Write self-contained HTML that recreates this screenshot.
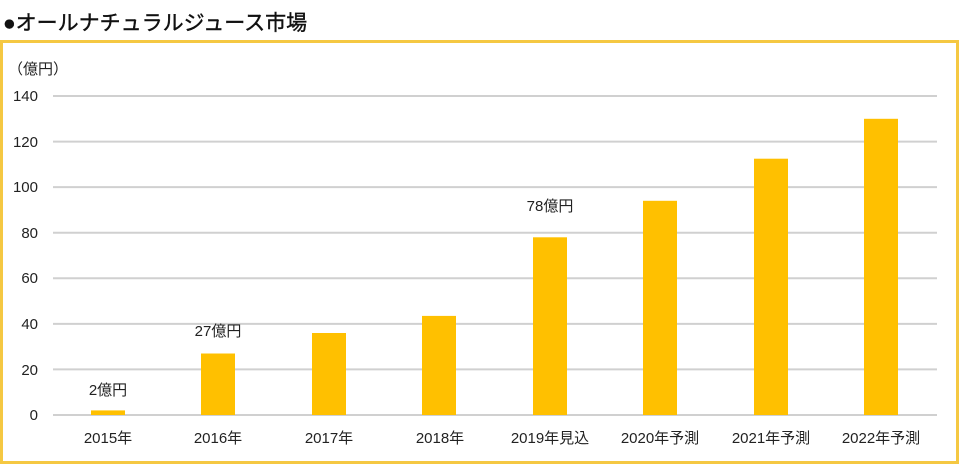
<!DOCTYPE html><html><head><meta charset="utf-8"><style>
body{margin:0;width:960px;height:465px;background:#fff;overflow:hidden;font-family:"Liberation Sans","Noto Sans CJK JP",sans-serif;}
</style></head><body>
<svg width="960" height="465" xmlns="http://www.w3.org/2000/svg" font-family="Liberation Sans, Noto Sans CJK JP, sans-serif">
<text x="3" y="30" font-size="21" fill="#111" stroke="#111" stroke-width="0.4">●オールナチュラルジュース市場</text>
<rect x="1.5" y="41.5" width="956" height="421" fill="#fff" stroke="#f5c842" stroke-width="3"/>
<text x="8" y="74" font-size="15" fill="#222">（億円）</text>
<g stroke="#d0d0d0" stroke-width="2">
<line x1="53" x2="937" y1="96" y2="96"/><line x1="53" x2="937" y1="141.6" y2="141.6"/>
<line x1="53" x2="937" y1="187.1" y2="187.1"/><line x1="53" x2="937" y1="232.7" y2="232.7"/>
<line x1="53" x2="937" y1="278.3" y2="278.3"/><line x1="53" x2="937" y1="323.9" y2="323.9"/>
<line x1="53" x2="937" y1="369.4" y2="369.4"/><line x1="53" x2="937" y1="415" y2="415"/>
</g>
<g font-size="15" fill="#222" text-anchor="end">
<text x="38" y="101">140</text><text x="38" y="147">120</text><text x="38" y="192">100</text>
<text x="38" y="238">80</text><text x="38" y="283">60</text><text x="38" y="329">40</text>
<text x="38" y="375">20</text><text x="38" y="420">0</text>
</g>
<g fill="#ffc000">
<rect x="91" y="410.4" width="34" height="4.6"/>
<rect x="201" y="353.5" width="34" height="61.5"/>
<rect x="312" y="333" width="34" height="82"/>
<rect x="422" y="315.9" width="34" height="99.1"/>
<rect x="533" y="237.3" width="34" height="177.7"/>
<rect x="643" y="200.8" width="34" height="214.2"/>
<rect x="754" y="158.7" width="34" height="256.3"/>
<rect x="864" y="118.8" width="34" height="296.2"/>
</g>
<g font-size="15" fill="#222" text-anchor="middle">
<text x="108" y="395">2億円</text><text x="218" y="336">27億円</text><text x="550" y="211">78億円</text>
<text x="108" y="443">2015年</text><text x="218" y="443">2016年</text><text x="329" y="443">2017年</text>
<text x="440" y="443">2018年</text><text x="550" y="443">2019年見込</text><text x="660" y="443">2020年予測</text>
<text x="771" y="443">2021年予測</text><text x="881" y="443">2022年予測</text>
</g>
</svg>
</body></html>
